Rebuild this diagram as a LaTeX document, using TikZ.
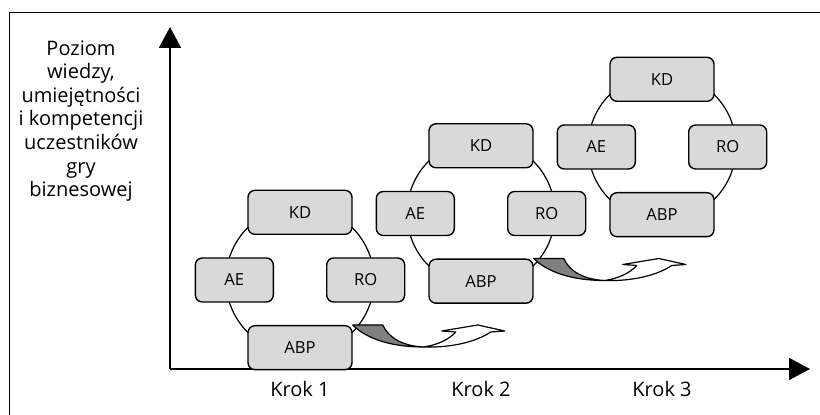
\documentclass[tikz,border=0pt]{standalone}
\usepackage{fontspec}
\setmainfont{Open Sans}
\usetikzlibrary{arrows.meta,positioning}
\definecolor{box-color}{HTML}{D9D9D9}
\definecolor{twist-color}{HTML}{808080}

\begin{document}
\begin{tikzpicture}[x=.5pt, y=-.5pt,
        every node/.append style={align=center},
        label-font/.style={font=\fontsize{10}{11.8}\selectfont},
        wide/.style={draw, line width=.7pt, fill=box-color, rounded corners=3.5pt,
                     minimum width=52pt, minimum height=22pt, inner sep=0pt,
                     font=\fontsize{8.3}{10}\selectfont},
        narrow/.style={wide, minimum width=39pt},
        ring/.style={draw, line width=.6pt},
        axis/.style={line width=.9pt, -{Triangle[length=10.5pt,width=11pt]}},
        twist arrow/.pic={
            \filldraw[fill=twist-color, line width=.6pt, line join=round]
                (0,0) -- (30,0) .. controls (36,13) and (50,21) .. (71,22)
                .. controls (35,22) and (12,12) .. (0,0) -- cycle;
            \filldraw[fill=white, line width=.6pt, line join=round]
                (71,22) .. controls (100,23) and (125,16) .. (138,7)
                -- (152,6) -- (125,0) -- (89,6) -- (103,7)
                .. controls (97,14) and (85,20) .. (71,22) -- cycle;
        }]
    \useasboundingbox (0,0) rectangle (820,415);
    \draw[line width=.5pt] (9,415) -- (9,13) -- (820,13);

    % axes
    \coordinate (O) at (170,369);
    \coordinate (ytop) at (170,27);
    \coordinate (xend) at (810,369);
    \draw[axis] (O) -- (ytop);
    \draw[axis] (O) -- (xend);

    \node[label-font] (level) at (81,121)
        {Poziom\\ wiedzy,\\ umiejętności\\ i kompetencji\\ uczestników\\ gry\\ biznesowej};

    % one ring per step
    \foreach \i/\cx/\cy in {1/300/280, 2/481/213.5, 3/662/147} {
        \coordinate (C\i) at (\cx,\cy);
        \draw[ring] (C\i) circle [radius=37pt];
        \node[wide, above=22.5pt of C\i] (KD\i) {KD};
        \node[narrow, left=13pt of C\i] (AE\i) {AE};
        \node[narrow, right=13pt of C\i] (RO\i) {RO};
        \node[wide, below=22.5pt of C\i] (ABP\i) {ABP};
        \node[label-font] (krok\i) at (\cx,389) {Krok \i};
    }

    \pic at (ABP1.north east) {twist arrow};
    \pic at (ABP2.north east) {twist arrow};
\end{tikzpicture}
\end{document}
